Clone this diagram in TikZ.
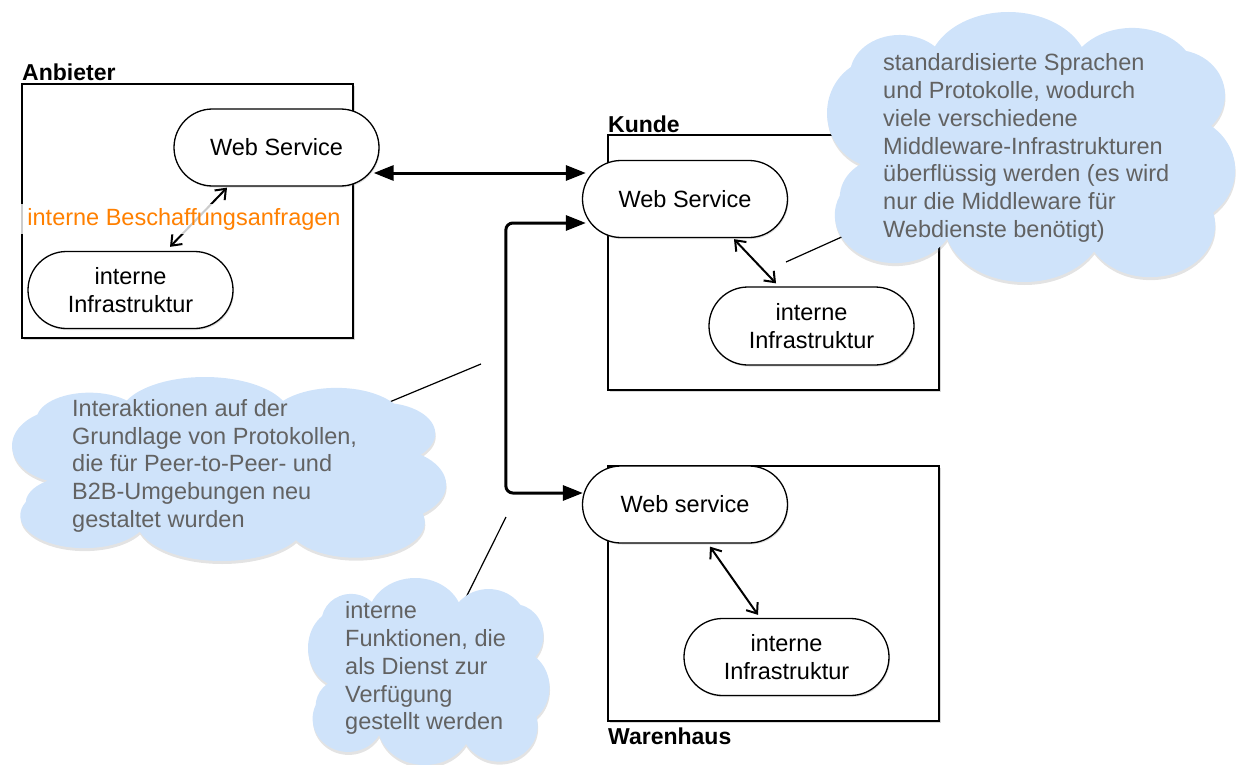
\documentclass[tikz,border=0pt]{standalone}
\usepackage{fontspec}
\setmainfont{Liberation Sans}
\usetikzlibrary{shapes.misc,arrows.meta,shadows}
\definecolor{cloudblue}{RGB}{207,227,250}
\definecolor{notegray}{RGB}{98,98,98}
\definecolor{labelorange}{RGB}{255,128,0}
% lobes of a cloud in a unit frame (x to the right, y downwards)
\newcommand\cloudlobes{%
  (0.178,0.233) ellipse [x radius=0.122, y radius=0.148]
  (0.443,0.215) ellipse [x radius=0.196, y radius=0.215]
  (0.746,0.252) ellipse [x radius=0.159, y radius=0.193]
  (0.851,0.307) ellipse [x radius=0.122, y radius=0.167]
  (0.851,0.585) ellipse [x radius=0.147, y radius=0.204]
  (0.790,0.789) ellipse [x radius=0.159, y radius=0.193]
  (0.482,0.778) ellipse [x radius=0.196, y radius=0.222]
  (0.166,0.752) ellipse [x radius=0.147, y radius=0.178]
  (0.141,0.689) ellipse [x radius=0.110, y radius=0.148]
  (0.130,0.374) ellipse [x radius=0.130, y radius=0.204]}
\begin{document}
\begin{tikzpicture}[x=1pt,y=-1pt,
  font=\fontsize{23.5}{27.8}\selectfont,
  frame/.style={draw, line width=1.6pt, fill=white, inner sep=0pt,
    drop shadow={shadow xshift=1.5pt, shadow yshift=-2pt, opacity=0.3}},
  framelabel/.style={font=\fontsize{23}{27}\selectfont\bfseries, inner sep=0pt, anchor=base west},
  svc/.style={rounded rectangle, draw, line width=1.3pt, fill=white,
    minimum width=205pt, minimum height=77pt, align=center, inner sep=0pt,
    drop shadow={shadow xshift=1pt, shadow yshift=-1.5pt, opacity=0.25}},
  link/.style={line width=2pt, {Straight Barb[length=9pt,width=14pt]}-{Straight Barb[length=9pt,width=14pt]}},
  bigarrow/.style={line width=3pt, {Triangle[length=20pt,width=15pt]}-{Triangle[length=20pt,width=15pt]}},
  cloudframe/.style n args={4}{shift={(#1,#2)}, x=#3pt, y=-#4pt},
  cloudfill/.style={fill=cloudblue,
    drop shadow={shadow xshift=0.5pt, shadow yshift=-3pt, opacity=0.22}},
  notetext/.style={text=notegray, align=left, inner sep=0pt, anchor=north west},
  pointer/.style={line width=1.2pt}
]
\useasboundingbox (0,0) rectangle (1236,765);

% enclosing frames with their labels
\node[frame, minimum width=331pt, minimum height=254pt] (anb) at (187.5,211) {};
\node[framelabel] (anblabel) at (22,81) {Anbieter};
\node[frame, minimum width=331pt, minimum height=255pt] (kun) at (773.5,262.5) {};
\node[framelabel] (kunlabel) at (608,132) {Kunde};
\node[frame, minimum width=331pt, minimum height=255pt] (war) at (773.5,593.5) {};
\node[framelabel] (warlabel) at (608,744) {Warenhaus};

% services and internal infrastructures
\node[svc] (aws) at (276.5,147.5) {Web Service};
\node[svc] (ainf) at (130.5,290) {interne\\Infrastruktur};
\node[svc] (kws) at (685,199) {Web Service};
\node[svc, minimum height=78pt] (kinf) at (811.5,326) {interne\\Infrastruktur};
\node[svc] (wws) at (685,504.5) {Web service};
\node[svc] (winf) at (786.5,657) {interne\\Infrastruktur};

% internal links
\draw[link] ([xshift=39.5pt,yshift=4pt]ainf.north) -- ([xshift=-49.5pt,yshift=-1pt]aws.south);
\node[text=labelorange, fill=white, fill opacity=0.8, text opacity=1,
      inner xsep=9pt, inner ysep=4pt, anchor=base] (req) at (184,225) {interne Beschaffungsanfragen};
\draw[link] ([xshift=49pt,yshift=-1pt]kws.south) -- ([xshift=-35.5pt,yshift=3pt]kinf.north);
\draw[link] ([xshift=25pt,yshift=-3pt]wws.south) -- ([xshift=-28.5pt,yshift=3pt]winf.north);

% interactions between the partners
\draw[bigarrow] ([xshift=-6pt,yshift=-25.5pt]aws.east) -- ([xshift=4pt,yshift=26pt]kws.west);
\path ([xshift=4pt,yshift=-24pt]kws.west) coordinate (kin)
      ([xshift=1pt,yshift=11.5pt]wws.west) coordinate (win);
\draw[bigarrow, rounded corners=7pt] (kin) -- ++(-80,0) |- (win);

% pointers from the annotation clouds (their inner parts are hidden by the clouds)
\coordinate (c1) at (1031,152);
\coordinate (c2) at (229.5,468.5);
\coordinate (c3) at (429,672);
\coordinate (p1) at (786,262);
\coordinate (p2) at (481,364);
\coordinate (p3) at (506,517);
\draw[pointer] (c1) -- (p1);
\draw[pointer] (c2) -- (p2);
\draw[pointer] (c3) -- (p3);

% annotation clouds
\begin{scope}[cloudframe={827}{12}{409}{270}]
  \path[cloudfill] \cloudlobes;
  \fill[cloudblue] (0.12,0.2) rectangle (0.88,0.8);
\end{scope}
\begin{scope}[cloudframe={12}{377}{435}{184}]
  \path[cloudfill] \cloudlobes;
  \fill[cloudblue] (0.12,0.2) rectangle (0.88,0.8);
\end{scope}
\begin{scope}[cloudframe={308}{578}{242}{187}]
  \path[cloudfill] \cloudlobes;
  \fill[cloudblue] (0.12,0.2) rectangle (0.88,0.8);
\end{scope}

\node[notetext] (t1) at (883,53.5) {standardisierte Sprachen\\und Protokolle, wodurch\\viele verschiedene\\Middleware-Infrastrukturen\\überflüssig werden (es wird\\nur die Middleware für\\Webdienste benötigt)};
\node[notetext] (t2) at (72,399) {Interaktionen auf der\\Grundlage von Protokollen,\\die für Peer-to-Peer- und\\B2B-Umgebungen neu\\gestaltet wurden};
\node[notetext] (t3) at (345,601.5) {interne\\Funktionen, die\\als Dienst zur\\Verfügung\\gestellt werden};
\end{tikzpicture}
\end{document}
